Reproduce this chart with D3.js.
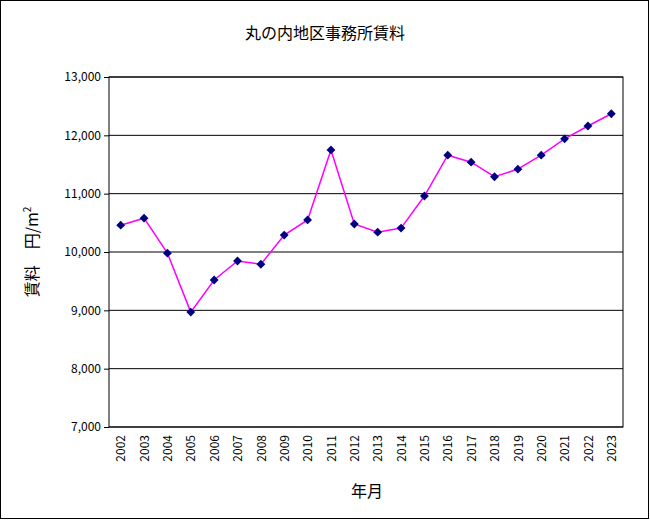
<!DOCTYPE html>
<html><head><meta charset="utf-8">
<script src="https://cdn.jsdelivr.net/npm/d3@7"></script>
<style>body{margin:0;background:#fff}text{font-family:"Noto Sans CJK JP",sans-serif}</style>
</head><body><svg id="c" width="650" height="520"></svg>
<script>
const years = ["2002","2003","2004","2005","2006","2007","2008","2009","2010","2011","2012","2013","2014","2015","2016","2017","2018","2019","2020","2021","2022","2023"];
const rents = [10460,10580,9980,8970,9520,9845,9790,10290,10550,11750,10480,10340,10410,10960,11660,11540,11290,11420,11660,11940,12160,12370];
const yTicks = [7000,8000,9000,10000,11000,12000,13000];

const svg = d3.select("#c");
svg.append("rect").attr("x",0.5).attr("y",0.5).attr("width",648).attr("height",518).attr("fill","#fff").attr("stroke","#000");
const L=109,R=623,T=77,B=427;
const x = d3.scalePoint().domain(years).range([L,R]).padding(0.5);
const y = d3.scaleLinear().domain([7000,13000]).range([B,T]);

svg.append("g").selectAll("line").data(yTicks).join("line")
  .attr("x1",L).attr("x2",R).attr("y1",d=>y(d)).attr("y2",d=>y(d)).attr("stroke","#000");
svg.append("rect").attr("x",L).attr("y",T).attr("width",R-L).attr("height",B-T).attr("fill","none").attr("stroke","#000");

const ya = svg.append("g").attr("transform",`translate(${L},0)`)
  .call(d3.axisLeft(y).tickValues(yTicks).tickSize(5).tickFormat(d3.format(",")));
ya.select(".domain").remove();
ya.selectAll("text").attr("font-size",12).attr("font-family","Arial, Liberation Sans").attr("fill","#000");

const xa = svg.append("g").attr("transform",`translate(0,${B})`)
  .call(d3.axisBottom(x).tickSize(0));
xa.select(".domain").remove();
xa.selectAll("text").attr("font-size",12).attr("font-family","Arial, Liberation Sans").attr("fill","#000")
  .attr("transform","rotate(-90)").attr("text-anchor","end").attr("x",-8).attr("y",0).attr("dy","0.35em");

const pts = years.map((d,i)=>[x(d),y(rents[i])]);
svg.append("path").attr("d",d3.line()(pts)).attr("fill","none").attr("stroke","#ff00ff").attr("stroke-width",1.5);
svg.append("g").selectAll("path").data(pts).join("path")
  .attr("d",d3.symbol(d3.symbolDiamond2,50)).attr("transform",d=>`translate(${d[0]},${d[1]})`).attr("fill","#000080");

svg.append("text").attr("x",325).attr("y",39).attr("text-anchor","middle").attr("font-size",16).text("丸の内地区事務所賃料");
svg.append("text").attr("x",367).attr("y",497).attr("text-anchor","middle").attr("font-size",16).text("年月");
const yl = svg.append("text").attr("transform","translate(38,252) rotate(-90)").attr("text-anchor","middle").attr("font-size",16);
yl.append("tspan").text("賃料　円/m");
yl.append("tspan").attr("font-size",10).attr("dy",-7).text("2");
</script></body></html>
